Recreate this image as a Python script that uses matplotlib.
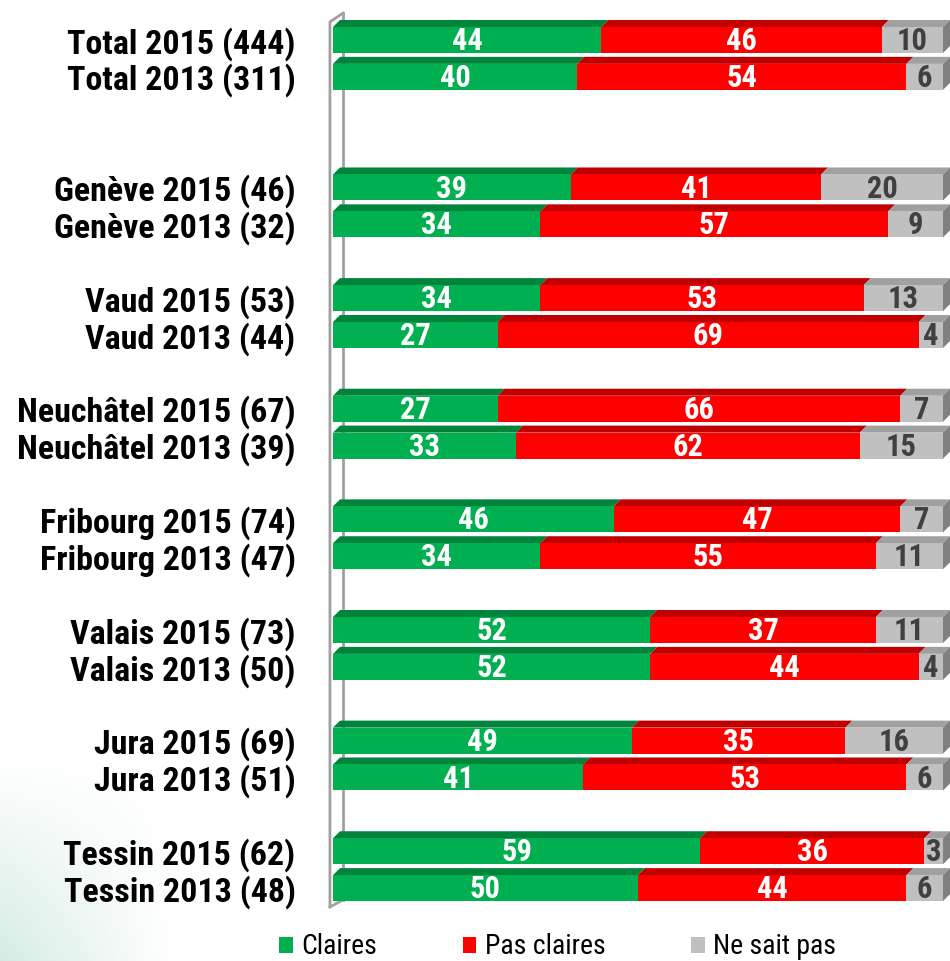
import numpy as np
import matplotlib
matplotlib.use("Agg")
import matplotlib.pyplot as plt
from matplotlib.patches import Polygon, Patch
from matplotlib.lines import Line2D

# ---------------- data ----------------
labels = ["Total 2015 (444)", "Total 2013 (311)",
          "Genève 2015 (46)", "Genève 2013 (32)",
          "Vaud 2015 (53)", "Vaud 2013 (44)",
          "Neuchâtel 2015 (67)", "Neuchâtel 2013 (39)",
          "Fribourg 2015 (74)", "Fribourg 2013 (47)",
          "Valais 2015 (73)", "Valais 2013 (50)",
          "Jura 2015 (69)", "Jura 2013 (51)",
          "Tessin 2015 (62)", "Tessin 2013 (48)"]
positions = [0, 1, 4, 5, 7, 8, 10, 11, 13, 14, 16, 17, 19, 20, 22, 23]
claires = [44, 40, 39, 34, 34, 27, 27, 33, 46, 34, 52, 52, 49, 41, 59, 50]
pas_claires = [46, 54, 41, 57, 53, 69, 66, 62, 47, 55, 37, 44, 35, 53, 36, 44]
ne_sait_pas = [10, 6, 20, 9, 13, 4, 7, 15, 7, 11, 11, 4, 16, 6, 3, 6]
series_names = ["Claires", "Pas claires", "Ne sait pas"]

# ---------------- style ----------------
FONT = ["Roboto Condensed", "DejaVu Sans"]
plt.rcParams["font.family"] = FONT
front_cols = ["#00B050", "#FF0000", "#C0C0C0"]
top_cols = ["#00843C", "#C00000", "#A0A0A0"]
side_col = "#808080"
text_cols = ["white", "white", "#404040"]

W, H = 950, 961
fig = plt.figure(figsize=(W / 100, H / 100), dpi=100)

# subtle background gradient bottom-left
bg = fig.add_axes([0, 0, 1, 1], zorder=-5)
bg.axis("off")
yy, xx = np.mgrid[0:H, 0:W]
a = np.clip(1 - xx / 170.0, 0, 1) * np.clip((yy - 760) / 200.0, 0, 1)
img = np.zeros((H, W, 4))
img[..., 0] = 0.78
img[..., 1] = 0.90
img[..., 2] = 0.86
img[..., 3] = 0.75 * a
bg.imshow(img, extent=(0, 1, 0, 1), aspect="auto", origin="upper")
bg.set_xlim(0, 1)
bg.set_ylim(0, 1)

ax = fig.add_axes([333 / W, 1 - 925 / H, 610 / W, (925 - 3.1) / H])
ax.set_xlim(0, 100)
ax.set_ylim(24, -1)
for s in ax.spines.values():
    s.set_visible(False)
ax.set_xticks([])
ax.set_yticks(positions)
ax.set_yticklabels(labels, fontsize=24.5, fontweight="bold")
ax.tick_params(axis="y", length=0, pad=27)
ax.patch.set_alpha(0)

bh = 0.705
dx = 1.15
dy = 0.19

# 3D wall (left)
wall = "#A0A0A0"
ax.add_line(Line2D([1.64, 1.64], [-0.73, 23.32], color=wall, lw=2, clip_on=False, zorder=1))
ax.add_line(Line2D([-0.5, -0.5, 1.64], [23.51, -0.49, -0.73], color=wall, lw=2, clip_on=False, zorder=1))
ax.add_line(Line2D([-0.5, 1.64], [23.51, 23.32], color=wall, lw=2, clip_on=False, zorder=1))

data = np.array([claires, pas_claires, ne_sait_pas], dtype=float)
shares = data / data.sum(axis=0) * 100.0   # bars are drawn as shares of 100
left = np.zeros(len(positions))
for k in range(3):
    vals = shares[k]
    ax.barh(positions, vals, left=left, height=bh, color=front_cols[k],
            edgecolor="none", zorder=3, label=series_names[k])
    for y, l, v, lab in zip(positions, left, vals, data[k]):
        top = y - bh / 2
        ax.add_patch(Polygon([(l, top), (l + v, top), (l + v + dx, top - dy), (l + dx, top - dy)],
                             closed=True, facecolor=top_cols[k], edgecolor="none",
                             zorder=2.5, clip_on=False))
        if k == 2:
            r = l + v
            ax.add_patch(Polygon([(r, top), (r + dx, top - dy), (r + dx, top + bh - dy), (r, top + bh)],
                                 closed=True, facecolor=side_col, edgecolor="none",
                                 zorder=3, clip_on=False))
        ax.text(l + v / 2, y + 0.03, f"{int(lab)}", ha="center", va="center",
                fontsize=22, fontweight="bold", color=text_cols[k], zorder=5)
    left = left + vals

handles = [Patch(facecolor=c, edgecolor="none") for c in front_cols]
fig.legend(handles, series_names, loc="center", bbox_to_anchor=(0.587, 0.0146),
           ncol=3, frameon=False, fontsize=20, handlelength=0.5, handleheight=0.5,
           handletextpad=0.3, columnspacing=3.08)

fig.savefig("out.png", dpi=100)
